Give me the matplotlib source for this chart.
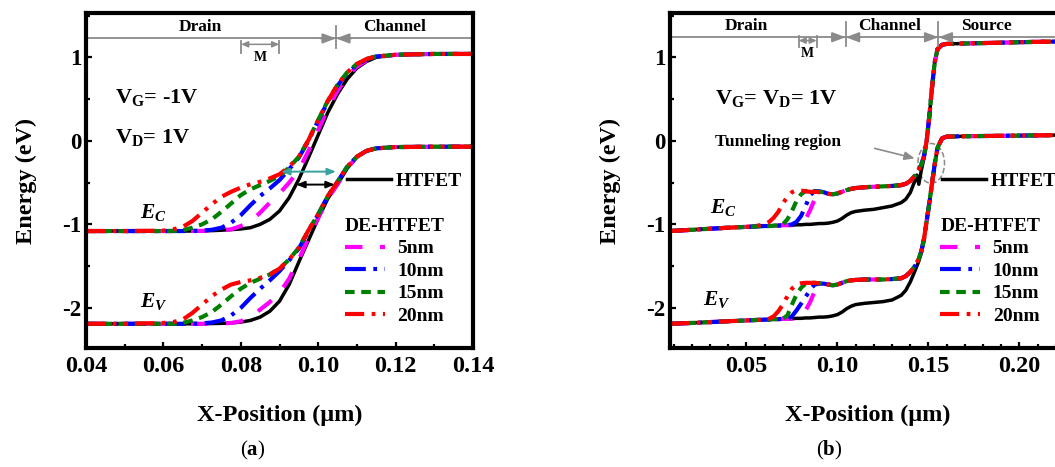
import matplotlib
matplotlib.use("Agg")
import matplotlib.pyplot as plt
from matplotlib.ticker import MultipleLocator, FormatStrFormatter
from matplotlib.patches import Ellipse

plt.rcParams.update({
    "font.family": "Liberation Serif",
    "font.weight": "bold",
    "axes.labelweight": "bold",
    "axes.unicode_minus": False,
    "mathtext.fontset": "custom",
    "mathtext.rm": "Liberation Serif:bold",
    "mathtext.it": "Liberation Serif:italic:bold",
    "mathtext.bf": "Liberation Serif:bold",
})

# ---------------- panel (a): VG = -1 V, VD = 1 V ----------------
x_a = [0.04, 0.05, 0.06, 0.0625, 0.065, 0.0675, 0.07, 0.0725, 0.075, 0.0775,
       0.08, 0.0825, 0.085, 0.0875, 0.09, 0.0925, 0.095, 0.0975, 0.10, 0.1025,
       0.105, 0.1075, 0.11, 0.1125, 0.115, 0.12, 0.13, 0.14]

ec_a_htfet = [-1.08, -1.08, -1.08, -1.08, -1.08, -1.08, -1.078, -1.075, -1.07, -1.063,
              -1.055, -1.04, -1.00, -0.94, -0.84, -0.68, -0.46, -0.20, 0.07, 0.34,
              0.56, 0.74, 0.87, 0.95, 1.00, 1.03, 1.04, 1.04]
ec_a_5nm = [-1.08, -1.08, -1.08, -1.08, -1.08, -1.08, -1.078, -1.075, -1.07, -1.06,
            -1.02, -0.97, -0.86, -0.74, -0.63, -0.50, -0.35, -0.12, 0.13, 0.39,
            0.60, 0.77, 0.89, 0.96, 1.00, 1.03, 1.04, 1.04]
ec_a_10nm = [-1.08, -1.08, -1.08, -1.08, -1.08, -1.078, -1.075, -1.065, -1.04, -0.98,
             -0.89, -0.77, -0.66, -0.57, -0.47, -0.34, -0.20, 0.0, 0.24, 0.47,
             0.66, 0.81, 0.91, 0.975, 1.01, 1.03, 1.04, 1.04]
ec_a_15nm = [-1.08, -1.08, -1.08, -1.078, -1.07, -1.04, -1.00, -0.94, -0.85, -0.75,
             -0.65, -0.58, -0.53, -0.48, -0.42, -0.32, -0.19, 0.01, 0.25, 0.48,
             0.67, 0.82, 0.92, 0.98, 1.01, 1.03, 1.04, 1.04]
ec_a_20nm = [-1.08, -1.08, -1.075, -1.06, -1.03, -0.96, -0.86, -0.76, -0.67, -0.61,
             -0.56, -0.52, -0.49, -0.45, -0.40, -0.31, -0.19, 0.01, 0.25, 0.48,
             0.67, 0.82, 0.92, 0.98, 1.01, 1.03, 1.04, 1.04]

ev_a_htfet = [-2.19, -2.19, -2.19, -2.19, -2.19, -2.19, -2.19, -2.187, -2.185, -2.18,
              -2.17, -2.15, -2.11, -2.04, -1.92, -1.72, -1.45, -1.19, -0.93, -0.69,
              -0.52, -0.33, -0.19, -0.12, -0.09, -0.075, -0.07, -0.07]
ev_a_5nm = [-2.19, -2.19, -2.19, -2.19, -2.19, -2.19, -2.19, -2.19, -2.185, -2.18,
            -2.16, -2.11, -2.02, -1.93, -1.82, -1.65, -1.42, -1.16, -0.92, -0.69,
            -0.52, -0.33, -0.19, -0.12, -0.09, -0.075, -0.07, -0.07]
ev_a_10nm = [-2.19, -2.19, -2.19, -2.19, -2.19, -2.19, -2.185, -2.175, -2.15, -2.09,
             -2.00, -1.88, -1.77, -1.67, -1.56, -1.43, -1.29, -1.08, -0.88, -0.66,
             -0.49, -0.31, -0.19, -0.12, -0.09, -0.075, -0.07, -0.07]
ev_a_15nm = [-2.19, -2.19, -2.19, -2.19, -2.18, -2.15, -2.11, -2.05, -1.96, -1.86,
             -1.77, -1.70, -1.65, -1.60, -1.53, -1.42, -1.28, -1.07, -0.88, -0.66,
             -0.49, -0.31, -0.19, -0.12, -0.09, -0.075, -0.07, -0.07]
ev_a_20nm = [-2.19, -2.19, -2.18, -2.17, -2.14, -2.06, -1.96, -1.86, -1.78, -1.72,
             -1.69, -1.67, -1.64, -1.60, -1.53, -1.42, -1.28, -1.07, -0.88, -0.66,
             -0.49, -0.31, -0.19, -0.12, -0.09, -0.075, -0.07, -0.07]

# ---------------- panel (b): VG = VD = 1 V ----------------
x_b = [0.008, 0.02, 0.04, 0.05, 0.055, 0.06, 0.0625, 0.065, 0.0675, 0.07,
       0.0725, 0.075, 0.0775, 0.08, 0.0825, 0.085, 0.0875, 0.09, 0.0925, 0.095,
       0.0975, 0.10, 0.1025, 0.105, 0.1075, 0.11, 0.115, 0.12, 0.125, 0.13,
       0.135, 0.1375, 0.14, 0.1425, 0.1436, 0.1447, 0.146, 0.1475, 0.149, 0.1505,
       0.152, 0.1535, 0.155, 0.1575, 0.16, 0.17, 0.19, 0.21, 0.225]

ec_b_htfet = [-1.08, -1.065, -1.04, -1.03, -1.025, -1.02, -1.02, -1.015, -1.015, -1.01,
              -1.01, -1.01, -1.005, -1.005, -1.0, -1.0, -0.995, -0.99, -0.99, -0.985,
              -0.975, -0.96, -0.93, -0.89, -0.86, -0.845, -0.83, -0.82, -0.80, -0.78,
              -0.74, -0.70, -0.62, -0.48, -0.41, -0.52, -0.36, -0.21, 0.0, 0.30,
              0.65, 0.95, 1.10, 1.15, 1.16, 1.165, 1.175, 1.185, 1.19]
ec_b_5nm = [-1.08, -1.065, -1.04, -1.03, -1.025, -1.02, -1.02, -1.015, -1.015, -1.01,
            -1.01, -1.01, -1.0, -0.98, -0.94, -0.83, -0.70, -0.64, -0.62, -0.635,
            -0.64, -0.63, -0.61, -0.59, -0.575, -0.565, -0.555, -0.55, -0.545, -0.54,
            -0.53, -0.515, -0.48, -0.42, -0.38, -0.34, -0.29, -0.19, 0.0, 0.30,
            0.65, 0.95, 1.10, 1.15, 1.16, 1.165, 1.175, 1.185, 1.19]
ec_b_10nm = [-1.08, -1.065, -1.04, -1.03, -1.025, -1.02, -1.02, -1.015, -1.015, -1.01,
             -1.01, -1.0, -0.97, -0.90, -0.78, -0.65, -0.60, -0.605, -0.615, -0.635,
             -0.64, -0.63, -0.61, -0.59, -0.575, -0.565, -0.555, -0.55, -0.545, -0.54,
             -0.53, -0.515, -0.48, -0.42, -0.38, -0.34, -0.29, -0.19, 0.0, 0.30,
             0.65, 0.95, 1.10, 1.15, 1.16, 1.165, 1.175, 1.185, 1.19]
ec_b_15nm = [-1.08, -1.065, -1.04, -1.03, -1.025, -1.02, -1.02, -1.015, -1.01, -1.0,
             -0.94, -0.84, -0.72, -0.64, -0.60, -0.60, -0.605, -0.61, -0.615, -0.635,
             -0.64, -0.63, -0.61, -0.59, -0.575, -0.565, -0.555, -0.55, -0.545, -0.54,
             -0.53, -0.515, -0.48, -0.42, -0.38, -0.34, -0.29, -0.19, 0.0, 0.30,
             0.65, 0.95, 1.10, 1.15, 1.16, 1.165, 1.175, 1.185, 1.19]
ec_b_20nm = [-1.08, -1.065, -1.04, -1.03, -1.02, -1.00, -0.97, -0.92, -0.85, -0.75,
             -0.67, -0.615, -0.59, -0.595, -0.605, -0.61, -0.61, -0.615, -0.615, -0.635,
             -0.64, -0.63, -0.61, -0.59, -0.575, -0.565, -0.555, -0.55, -0.545, -0.54,
             -0.53, -0.515, -0.48, -0.42, -0.38, -0.34, -0.29, -0.19, 0.0, 0.30,
             0.65, 0.95, 1.10, 1.15, 1.16, 1.165, 1.175, 1.185, 1.19]

ev_b_htfet = [-2.19, -2.18, -2.16, -2.15, -2.145, -2.14, -2.14, -2.135, -2.135, -2.13,
              -2.13, -2.13, -2.125, -2.125, -2.12, -2.12, -2.115, -2.11, -2.11, -2.105,
              -2.095, -2.08, -2.05, -2.01, -1.98, -1.96, -1.945, -1.935, -1.925, -1.905,
              -1.85, -1.79, -1.69, -1.56, -1.50, -1.44, -1.34, -1.18, -0.96, -0.74,
              -0.50, -0.27, -0.08, 0.03, 0.05, 0.055, 0.06, 0.065, 0.07]
ev_b_5nm = [-2.19, -2.18, -2.16, -2.15, -2.145, -2.14, -2.14, -2.135, -2.135, -2.13,
            -2.13, -2.13, -2.12, -2.09, -2.03, -1.93, -1.80, -1.75, -1.72, -1.72,
            -1.73, -1.72, -1.70, -1.68, -1.67, -1.665, -1.66, -1.66, -1.66, -1.655,
            -1.645, -1.62, -1.57, -1.50, -1.46, -1.41, -1.33, -1.18, -0.96, -0.74,
            -0.50, -0.27, -0.08, 0.03, 0.05, 0.055, 0.06, 0.065, 0.07]
ev_b_10nm = [-2.19, -2.18, -2.16, -2.15, -2.145, -2.14, -2.14, -2.135, -2.135, -2.13,
             -2.13, -2.10, -2.03, -1.95, -1.87, -1.78, -1.72, -1.71, -1.71, -1.72,
             -1.73, -1.72, -1.70, -1.68, -1.67, -1.665, -1.66, -1.66, -1.66, -1.655,
             -1.645, -1.62, -1.57, -1.50, -1.46, -1.41, -1.33, -1.18, -0.96, -0.74,
             -0.50, -0.27, -0.08, 0.03, 0.05, 0.055, 0.06, 0.065, 0.07]
ev_b_15nm = [-2.19, -2.18, -2.16, -2.15, -2.145, -2.14, -2.14, -2.135, -2.135, -2.13,
             -2.09, -1.96, -1.84, -1.76, -1.71, -1.70, -1.70, -1.705, -1.71, -1.72,
             -1.73, -1.72, -1.70, -1.68, -1.67, -1.665, -1.66, -1.66, -1.66, -1.655,
             -1.645, -1.62, -1.57, -1.50, -1.46, -1.41, -1.33, -1.18, -0.96, -0.74,
             -0.50, -0.27, -0.08, 0.03, 0.05, 0.055, 0.06, 0.065, 0.07]
ev_b_20nm = [-2.19, -2.18, -2.16, -2.15, -2.145, -2.14, -2.13, -2.10, -2.04, -1.96,
             -1.86, -1.77, -1.72, -1.705, -1.70, -1.70, -1.70, -1.705, -1.71, -1.72,
             -1.73, -1.72, -1.70, -1.68, -1.67, -1.665, -1.66, -1.66, -1.66, -1.655,
             -1.645, -1.62, -1.57, -1.50, -1.46, -1.41, -1.33, -1.18, -0.96, -0.74,
             -0.50, -0.27, -0.08, 0.03, 0.05, 0.055, 0.06, 0.065, 0.07]

de_labels = ["5nm", "10nm", "15nm", "20nm"]
de_colors = ["#ff00ff", "#0000ff", "#008000", "#ff0000"]
de_dashes = [(4.2, 4.2), (5.0, 1.8, 0.9, 1.8), (2.3, 1.6), (4.6, 1.8, 0.9, 1.8, 0.9, 1.8)]

gray = "#8a8a8a"
teal = "#3aa0a0"

W, H = 1055, 467
fig = plt.figure(figsize=(W / 100, H / 100), dpi=100)
ax_a = fig.add_axes([86 / W, 1 - 348 / H, 387 / W, 335 / H])
ax_b = fig.add_axes([670 / W, 1 - 348 / H, 395 / W, 335 / H])


def draw_bands(ax, x, ec_ht, ev_ht, ec_de, ev_de):
    h, = ax.plot(x, ec_ht, color="black", lw=2.5)
    ax.plot(x, ev_ht, color="black", lw=2.5)
    handles = []
    for ec, ev, c, d in zip(ec_de, ev_de, de_colors, de_dashes):
        ln, = ax.plot(x, ec, color=c, lw=3.0, dashes=d)
        ax.plot(x, ev, color=c, lw=3.0, dashes=d)
        handles.append(ln)
    return h, handles


def style_axes(ax, xlim, xmajor, xminor):
    ax.set_xlim(*xlim)
    ax.set_ylim(-2.48, 1.53)
    ax.xaxis.set_major_locator(MultipleLocator(xmajor))
    ax.xaxis.set_minor_locator(MultipleLocator(xminor))
    ax.xaxis.set_major_formatter(FormatStrFormatter("%.2f"))
    ax.yaxis.set_major_locator(MultipleLocator(1))
    ax.yaxis.set_minor_locator(MultipleLocator(0.5))
    ax.yaxis.set_major_formatter(FormatStrFormatter("%d"))
    ax.tick_params(which="both", direction="in", top=False, right=False, width=1.6)
    ax.tick_params(which="major", length=4.5)
    ax.tick_params(which="minor", length=3)
    ax.tick_params(axis="x", labelsize=17.5, pad=5.5)
    ax.tick_params(axis="y", labelsize=16.5, pad=3.5)
    for s in ax.spines.values():
        s.set_linewidth(3)
    ax.set_xlabel("X-Position (\u03bcm)", fontsize=17.5, fontweight="bold", va="center")
    ax.xaxis.set_label_coords(0.5, -67 / 335)
    ax.set_ylabel("Energy (eV)", fontsize=17.5, fontweight="bold", va="center")
    ax.yaxis.set_label_coords(-60 / ax.bbox.width, 0.5)


def add_legends(ax, x1, x2):
    ht, de = ax._bands
    leg1 = ax.legend([ht], ["HTFET"], loc="center left", bbox_to_anchor=(x1, 0.4985),
                     frameon=False, fontsize=14, handlelength=2.25, handletextpad=0.25,
                     borderpad=0, borderaxespad=0)
    ax.add_artist(leg1)
    ax.legend(de, de_labels, title="DE-HTFET", alignment="left", loc="upper left",
              bbox_to_anchor=(x2, 0.388), frameon=False, fontsize=14,
              title_fontproperties={"size": 14, "weight": "bold"},
              handlelength=2.05, handletextpad=0.65, labelspacing=0.25,
              borderpad=0, borderaxespad=0)


def region_arrow(ax, xpos, y, dx):
    kw = dict(arrowstyle="-|>,head_length=0.8,head_width=0.3", color=gray, lw=1.3,
              shrinkA=0, shrinkB=0)
    ax.annotate("", xy=(xpos, y), xytext=(xpos - dx, y), arrowprops=kw)
    ax.annotate("", xy=(xpos, y), xytext=(xpos + dx, y), arrowprops=kw)


def m_marker(ax, x0, x1, ylo, yhi, yarr, ytxt):
    ax.plot([x0, x0], [ylo, yhi], color=gray, lw=1.3)
    ax.plot([x1, x1], [ylo, yhi], color=gray, lw=1.3)
    ax.annotate("", xy=(x0, yarr), xytext=(x1, yarr),
                arrowprops=dict(arrowstyle="<|-|>,head_length=0.4,head_width=0.18",
                                color=gray, lw=1.1, shrinkA=0, shrinkB=0))
    ax.text((x0 + x1) / 2, ytxt, "M", fontsize=10, ha="center", va="center")


# ---- panel (a)
ax_a._bands = draw_bands(ax_a, x_a, ec_a_htfet, ev_a_htfet,
                         [ec_a_5nm, ec_a_10nm, ec_a_15nm, ec_a_20nm],
                         [ev_a_5nm, ev_a_10nm, ev_a_15nm, ev_a_20nm])
style_axes(ax_a, (0.04, 0.14), 0.02, 0.01)
add_legends(ax_a, 0.674, 0.669)

ax_a.axhline(1.226, color=gray, lw=1.3)
ax_a.plot([0.1046, 0.1046], [1.107, 1.38], color=gray, lw=1.3)
region_arrow(ax_a, 0.1046, 1.226, 0.004)
m_marker(ax_a, 0.0801, 0.0899, 1.05, 1.20, 1.155, 1.0)
ax_a.text(0.0695, 1.357, "Drain", fontsize=12.5, ha="center", va="center")
ax_a.text(0.1198, 1.357, "Channel", fontsize=12.5, ha="center", va="center")
ax_a.text(0.0475, 0.52, r"V$_{\mathrm{G}}$= -1V", fontsize=16, ha="left", va="center")
ax_a.text(0.0475, 0.04, r"V$_{\mathrm{D}}$= 1V", fontsize=16, ha="left", va="center")
ax_a.text(0.054, -0.86, r"$E_{C}$", fontsize=15.5, ha="left", va="center")
ax_a.text(0.054, -1.92, r"$E_{V}$", fontsize=15.5, ha="left", va="center")
ax_a.annotate("", xy=(0.0904, -0.369), xytext=(0.1046, -0.369),
              arrowprops=dict(arrowstyle="<|-|>,head_length=0.5,head_width=0.2",
                              color=teal, lw=1.4, shrinkA=0, shrinkB=0))
ax_a.annotate("", xy=(0.0943, -0.524), xytext=(0.1043, -0.524),
              arrowprops=dict(arrowstyle="<|-|>,head_length=0.5,head_width=0.2",
                              color="black", lw=1.4, shrinkA=0, shrinkB=0))

# ---- panel (b)
ax_b._bands = draw_bands(ax_b, x_b, ec_b_htfet, ev_b_htfet,
                         [ec_b_5nm, ec_b_10nm, ec_b_15nm, ec_b_20nm],
                         [ev_b_5nm, ev_b_10nm, ev_b_15nm, ev_b_20nm])
style_axes(ax_b, (0.008, 0.225), 0.05, 0.01)
add_legends(ax_b, 0.689, 0.684)

ax_b.axhline(1.24, color=gray, lw=1.3)
for xs in (0.1045, 0.1555):
    ax_b.plot([xs, xs], [1.14, 1.42], color=gray, lw=1.3)
    region_arrow(ax_b, xs, 1.24, 0.008)
m_marker(ax_b, 0.0787, 0.0886, 1.12, 1.26, 1.20, 1.05)
ax_b.text(0.05, 1.38, "Drain", fontsize=12.5, ha="center", va="center")
ax_b.text(0.1287, 1.38, "Channel", fontsize=12.5, ha="center", va="center")
ax_b.text(0.1819, 1.38, "Source", fontsize=12.5, ha="center", va="center")
ax_b.text(0.0326, 0.51, r"V$_{\mathrm{G}}$= V$_{\mathrm{D}}$= 1V", fontsize=16,
          ha="left", va="center")
ax_b.text(0.0326, -0.02, "Tunneling region", fontsize=12.5, ha="left", va="center")
ax_b.annotate("", xy=(0.1424, -0.21), xytext=(0.1204, -0.09),
              arrowprops=dict(arrowstyle="-|>,head_length=0.6,head_width=0.25",
                              color=gray, lw=1.2, shrinkA=0, shrinkB=0))
ax_b.add_patch(Ellipse((0.1515, -0.27), 0.0146, 0.476, fill=False, ls="--",
                       ec=gray, lw=1.1))
ax_b.text(0.0299, -0.80, r"$E_{C}$", fontsize=15.5, ha="left", va="center")
ax_b.text(0.026, -1.905, r"$E_{V}$", fontsize=15.5, ha="left", va="center")

fig.text(253 / W, 1 - 450 / H, r"($\mathbf{a}$)", fontsize=15, weight="normal",
         ha="center", va="center")
fig.text(829 / W, 1 - 450 / H, r"($\mathbf{b}$)", fontsize=15, weight="normal",
         ha="center", va="center")

fig.savefig("out.png", dpi=100)
